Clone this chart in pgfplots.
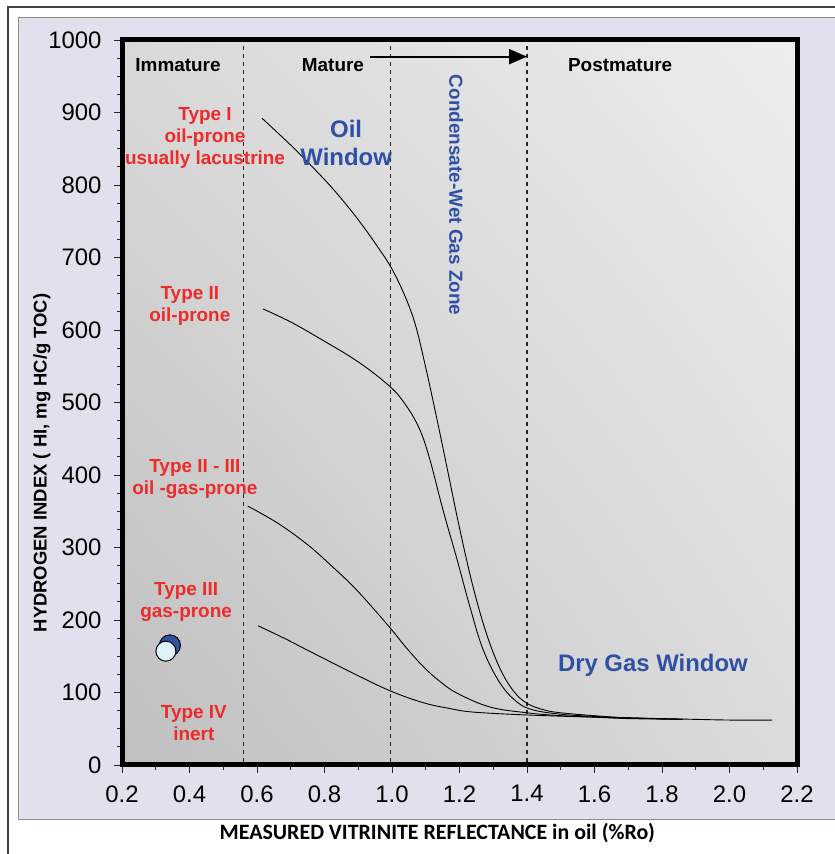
\documentclass[border=0pt]{standalone}
\usepackage{fontspec}
\setmainfont{Liberation Sans}
\newfontfamily\calibri{Carlito}
\usepackage{pgfplots}
\pgfplotsset{compat=1.18}
\usetikzlibrary{arrows.meta,shadings}
\definecolor{panel}{HTML}{E1E1EE}
\definecolor{lblred}{HTML}{EE2A2A}
\definecolor{lblblue}{HTML}{3050A8}
\definecolor{dotblue}{HTML}{3352A6}
\definecolor{dotcyan}{HTML}{DDF2F9}
\begin{document}
\begin{tikzpicture}[x=1bp,y=1bp]
\useasboundingbox (0,0) rectangle (835,854);
\fill[white] (0,0) rectangle (835,854);
\draw[line width=1.2bp, black!75] (8,-10) -- (8,847) -- (845,847);
\filldraw[fill=panel, draw=black!45, line width=0.8bp] (18,35) rectangle (845,837);
\begin{axis}[
  at={(122bp,89bp)}, anchor=south west,
  scale only axis, width=675bp, height=725bp,
  xmin=0.2, xmax=2.2, ymin=0, ymax=1000,
  xtick={0.2,0.4,0.6,0.8,1.0,1.2,1.4,1.6,1.8,2.0,2.2},
  ytick={0,100,200,300,400,500,600,700,800,900,1000},
  minor x tick num=1, minor y tick num=3,
  xtick pos=bottom, ytick pos=left,
  tick align=outside, major tick length=8bp, minor tick length=5bp,
  tick style={black!85, line width=0.8bp},
  axis line style={line width=5bp},
  axis background/.style={shade, lower left=black!25, upper left=black!15, lower right=black!14, upper right=black!7},
  /pgf/number format/assume math mode=true,
  tick label style={font=\fontsize{24}{28}\selectfont},
  xticklabel style={yshift=-9bp, /pgf/number format/.cd, fixed, fixed zerofill, precision=1},
  yticklabel style={xshift=-9bp, /pgf/number format/.cd, 1000 sep={}},
  xlabel={MEASURED VITRINITE REFLECTANCE in oil (\%Ro)},
  xlabel style={font=\calibri\bfseries\fontsize{22}{26}\selectfont, at={(axis description cs:0.467,-0.0938)}, anchor=center},
  ylabel={HYDROGEN INDEX ( HI, mg HC/g TOC)},
  ylabel style={font=\bfseries\fontsize{18.5}{22}\selectfont, at={(axis description cs:-0.1185,0.4166)}, anchor=center},
]
% boundaries
\addplot[black!85, line width=1.3bp, dash pattern=on 4.5bp off 3.5bp] coordinates {(0.56,4) (0.56,992)};
\addplot[black!85, line width=1.3bp, dash pattern=on 4.5bp off 3.5bp] coordinates {(0.995,4) (0.995,992)};
\addplot[black!85, line width=1.3bp, dash pattern=on 4.5bp off 3.5bp] coordinates {(1.40,4) (1.40,992)};
% arrow
\addplot[black, line width=2bp, -{Triangle[length=18bp,width=15bp]}] coordinates {(0.935,977) (1.40,977)};
% Type I
\addplot[black, line width=0.9bp, smooth, tension=0.6] coordinates {
(0.615,892) (0.70,855) (0.76,827) (0.83,792) (0.90,752) (0.96,713) (1.00,684) (1.04,645) (1.07,606) (1.10,548) (1.13,484) (1.16,417) (1.20,327) (1.24,246) (1.28,181) (1.32,133) (1.36,102) (1.40,85) (1.45,76) (1.50,72) (1.60,68) (1.70,65) (1.86,63)};
% Type II
\addplot[black, line width=0.9bp, smooth, tension=0.6] coordinates {
(0.618,629) (0.70,611) (0.787,588) (0.90,556) (0.994,522) (1.04,497) (1.08,465) (1.11,425) (1.151,352) (1.193,283) (1.231,218) (1.27,159) (1.32,113) (1.37,87) (1.418,76) (1.50,70) (1.60,67) (1.70,65) (1.86,63)};
% Type II-III
\addplot[black, line width=0.9bp, smooth, tension=0.6] coordinates {
(0.573,357) (0.66,334) (0.747,305) (0.82,275) (0.896,241) (0.991,191) (1.04,163) (1.092,136) (1.14,116) (1.193,99) (1.29,80) (1.40,72) (1.50,68) (1.60,66) (1.70,64) (1.86,63)};
% Type III
\addplot[black, line width=0.9bp, smooth, tension=0.6] coordinates {
(0.603,192) (0.68,175) (0.747,159) (0.87,130) (0.991,103) (1.092,86) (1.17,78) (1.24,73) (1.40,69) (1.60,66) (1.80,64) (2.00,62) (2.126,62)};
% samples
\addplot[only marks, mark=*, mark size=10.5bp, mark options={fill=dotblue, draw=black, line width=1bp}] coordinates {(0.342,165)};
\addplot[only marks, mark=*, mark size=10bp, mark options={fill=dotcyan, draw=black, line width=1bp}] coordinates {(0.330,157)};
% zone labels
\node[font=\bfseries\fontsize{19}{22}\selectfont] at (axis cs:0.366,966) {Immature};
\node[font=\bfseries\fontsize{19}{22}\selectfont] at (axis cs:0.825,966) {Mature};
\node[font=\bfseries\fontsize{19}{22}\selectfont] at (axis cs:1.676,966) {Postmature};
\node[font=\bfseries\fontsize{24}{29}\selectfont, text=lblblue, align=center] at (axis cs:0.864,858) {Oil\\Window};
\node[font=\bfseries\fontsize{19}{22}\selectfont, text=lblblue, rotate=-90] at (axis cs:1.19,786) {Condensate-Wet Gas Zone};
\node[font=\bfseries\fontsize{24}{29}\selectfont, text=lblblue] at (axis cs:1.773,138) {Dry Gas Window};
% kerogen types
\node[font=\bfseries\fontsize{19}{22}\selectfont, text=lblred, align=center] at (axis cs:0.446,865) {Type I\\oil-prone\\usually lacustrine};
\node[font=\bfseries\fontsize{19}{22}\selectfont, text=lblred, align=center] at (axis cs:0.401,633) {Type II\\oil-prone};
\node[font=\bfseries\fontsize{19}{22}\selectfont, text=lblred, align=center] at (axis cs:0.416,394) {Type II - III\\oil -gas-prone};
\node[font=\bfseries\fontsize{19}{22}\selectfont, text=lblred, align=center] at (axis cs:0.39,225) {Type III\\gas-prone};
\node[font=\bfseries\fontsize{19}{22}\selectfont, text=lblred, align=center] at (axis cs:0.413,58) {Type IV\\inert};
\end{axis}
\end{tikzpicture}
\end{document}
